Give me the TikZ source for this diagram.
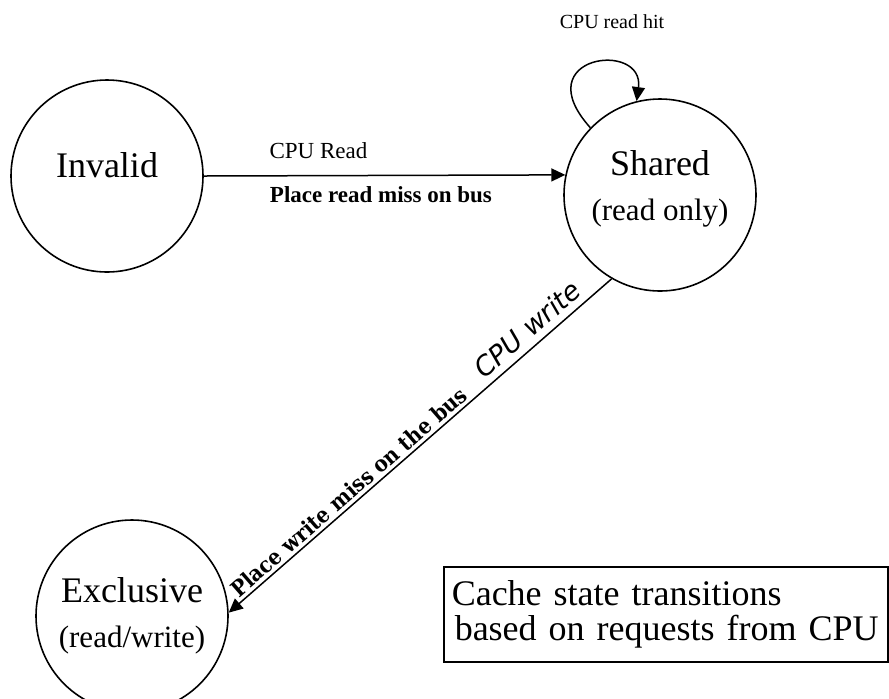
\documentclass[tikz,border=0pt]{standalone}
\usepackage{fontspec}
\setmainfont{Liberation Serif}
\newfontfamily\heavyfont{DejaVu Serif Condensed}
\newfontfamily\handfont{DejaVu Sans}
\usepackage{tikz}
\usetikzlibrary{arrows.meta}
\usetikzlibrary{shapes}

\tikzset{
    state/.style={draw, circle, line width=0.8pt, minimum size=96pt, inner sep=0pt,
        align=center, font=\fontsize{18}{21}\selectfont},
    trans/.style={draw, line width=0.75pt, ->},
    lbl/.style={font=\fontsize{11.5}{13}\selectfont},
    note/.style={draw, line width=0.75pt, anchor=north west, align=left,
        text width=214pt, inner xsep=4pt, minimum height=47.5pt,
        font=\fontsize{18}{17.5}\selectfont},
    >={Triangle[length=7pt, width=6.5pt]}
}

\begin{document}
\begin{tikzpicture}[x=0.5pt, y=-0.5pt]
    \useasboundingbox (0,0) rectangle (889,698);

    \node[state, text depth=11pt] (I) at (107,176) {Invalid};
    \node[state, text depth=9pt] (S) at (660,195) {Shared\\[1.5pt]{\fontsize{15.5}{18}\selectfont (read only)}};
    \node[state] (E) at (132,616) {Exclusive\\[1.5pt]{\fontsize{15.5}{18}\selectfont (read/write)}};

    % read miss: invalid -> shared
    \draw[trans] (I.east) -- (S.168.5)
        node[lbl, pos=0.317, above=5pt] (rd) {CPU Read}
        node[lbl, pos=0.49, below=1.7pt] (rdmiss) {\bfseries Place read miss on bus};

    % read hit loop on shared
    \draw[trans] (S.136) .. controls (525,55) and (645,40) .. (S.104);
    \node[font=\fontsize{10}{12}\selectfont] (hit) at (612,22) {CPU read hit};

    % write: shared -> exclusive
    \draw[trans] (S.240) -- (E.2)
        node[pos=0.19, sloped, above, font=\handfont\itshape\fontsize{13.5}{15}\selectfont] (wr) {CPU write}
        node[pos=0.666, sloped, above, inner sep=1.5pt, font=\heavyfont\bfseries\fontsize{11}{13}\selectfont] (wrmiss) {Place write miss on the bus};

    \node[note] (box) at (443,566) {Cache state transitions\\\hspace{1.5pt}based on requests from CPU};
\end{tikzpicture}
\end{document}
